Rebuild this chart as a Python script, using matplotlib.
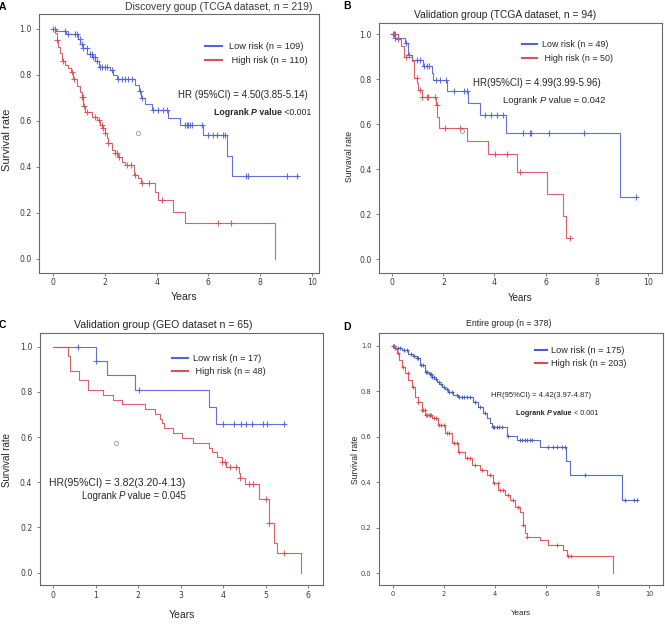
import numpy as np
import matplotlib
matplotlib.use('Agg')
import matplotlib.pyplot as plt
from matplotlib.lines import Line2D

plt.rcParams['font.family'] = ['Liberation Sans', 'DejaVu Sans']

# ---------------- data ----------------
# Panel A: Discovery group (TCGA, n = 219)
a_low_t = [0.1, 0.5, 0.95, 1.05, 1.15, 1.3, 1.5, 1.62, 1.75, 2.2, 2.3, 2.45, 3.15, 3.3, 3.4, 3.55, 3.8, 4.45, 4.9, 5.8, 6.73, 6.93]
a_low_s = [0.99, 0.977, 0.955, 0.935, 0.915, 0.89, 0.875, 0.86, 0.835, 0.82, 0.80, 0.78, 0.755, 0.73, 0.70, 0.675, 0.645, 0.611, 0.582, 0.538, 0.449, 0.36]
a_low_end = 9.46
a_low_cens = [0.0, 0.07, 0.45, 0.58, 0.84, 0.9, 1.03, 1.1, 1.16, 1.29, 1.42, 1.48, 1.55, 1.61, 1.68, 1.81, 1.87, 2.0, 2.06,
              2.26, 2.52, 2.65, 2.77, 2.9, 3.03, 3.35, 3.42, 3.87, 4.06, 4.26, 4.39, 5.1, 5.16, 5.22, 5.29, 5.36, 5.77,
              6.0, 6.17, 6.32, 6.58, 6.65, 7.46, 7.52, 9.06, 9.42]
a_high_t = [0.07, 0.13, 0.19, 0.26, 0.32, 0.45, 0.58, 0.7, 0.77, 0.9, 1.03, 1.1, 1.16, 1.23, 1.5, 1.7, 1.8, 1.9, 2.0, 2.06,
            2.13, 2.26, 2.39, 2.52, 2.65, 2.77, 3.14, 3.29, 3.38, 3.92, 4.06, 4.64, 5.1, 8.57]
a_high_s = [0.98, 0.951, 0.922, 0.893, 0.86, 0.842, 0.828, 0.813, 0.78, 0.75, 0.727, 0.705, 0.665, 0.64, 0.618, 0.604,
            0.582, 0.568, 0.546, 0.524, 0.502, 0.473, 0.459, 0.444, 0.423, 0.408, 0.365, 0.351, 0.332, 0.292, 0.258,
            0.205, 0.155, 0.0]
a_high_end = 8.57
a_high_cens = [0.13, 0.39, 0.71, 0.81, 1.1, 1.14, 1.2, 1.29, 1.61, 1.78, 1.87, 1.94, 2.0, 2.13, 2.39, 2.45, 2.54, 2.84,
               3.01, 3.16, 3.42, 3.7, 4.19, 6.39, 6.88]
a_circle = [3.26, 0.548]

# Panel B: Validation group (TCGA, n = 94)
b_low_t = [0.1, 0.5, 0.6, 0.76, 1.21, 1.54, 1.6, 2.13, 2.98, 3.43, 4.44, 8.92]
b_low_s = [0.985, 0.96, 0.908, 0.886, 0.859, 0.827, 0.797, 0.748, 0.693, 0.641, 0.562, 0.278]
b_low_end = 9.54
b_low_cens = [0.03, 0.08, 0.12, 0.55, 0.65, 0.95, 1.08, 1.25, 1.35, 1.45, 1.73, 1.86, 2.12, 2.4, 2.8, 2.93, 3.63, 3.87,
              4.09, 4.35, 5.13, 5.39, 5.43, 6.15, 7.52, 9.54]
b_high_t = [0.24, 0.33, 0.45, 0.76, 0.86, 0.98, 1.02, 1.15, 1.7, 1.76, 1.82, 2.91, 3.73, 4.87, 6.05, 6.7, 6.8]
b_high_s = [0.979, 0.95, 0.9, 0.88, 0.804, 0.782, 0.752, 0.723, 0.686, 0.634, 0.582, 0.525, 0.467, 0.386, 0.289, 0.192, 0.096]
b_high_end = 6.96
b_high_cens = [0.1, 0.24, 0.52, 0.95, 1.08, 1.15, 1.35, 1.41, 1.67, 1.74, 2.06, 2.65, 4.02, 4.48, 5.0, 6.96]
b_circle = [2.74, 0.57]

# Panel C: Validation group (GEO, n = 65)
c_low_t = [1.0, 1.26, 1.93, 3.67, 3.84]
c_low_s = [0.938, 0.873, 0.806, 0.733, 0.656]
c_low_end = 5.45
c_low_cens = [0.59, 1.0, 2.02, 4.0, 4.25, 4.42, 4.53, 4.67, 4.93, 5.02, 5.44]
c_high_t = [0.34, 0.4, 0.6, 0.82, 1.18, 1.41, 1.61, 2.16, 2.39, 2.51, 2.56, 2.6, 2.82, 3.02, 3.29, 3.67, 3.74, 3.86,
            3.96, 4.06, 4.36, 4.4, 4.52, 4.85, 5.08, 5.19, 5.27, 5.84]
c_high_s = [0.958, 0.894, 0.851, 0.808, 0.787, 0.766, 0.745, 0.723, 0.702, 0.681, 0.66, 0.638, 0.617, 0.596, 0.575,
            0.553, 0.532, 0.511, 0.489, 0.467, 0.442, 0.418, 0.393, 0.324, 0.218, 0.13, 0.087, 0.0]
c_high_end = 5.84
c_high_cens = [3.98, 4.04, 4.15, 4.29, 4.4, 4.6, 4.7, 5.0, 5.08, 5.43]
c_circle = [1.47, 0.572]

# Panel D: Entire group (n = 378)
d_low_t = [0.1, 0.35, 0.61, 0.8, 0.94, 1.07, 1.26, 1.4, 1.52, 1.62, 1.72, 1.82, 1.91, 2.05, 2.17, 2.36, 2.55, 3.15,
           3.34, 3.53, 3.67, 3.8, 3.86, 4.45, 4.84, 5.75, 6.75, 6.92, 8.93]
d_low_s = [0.99, 0.981, 0.965, 0.955, 0.944, 0.915, 0.886, 0.875, 0.864, 0.853, 0.842, 0.83, 0.82, 0.81, 0.798, 0.785,
           0.775, 0.754, 0.732, 0.703, 0.681, 0.659, 0.641, 0.603, 0.587, 0.553, 0.494, 0.43, 0.322]
d_low_end = 9.52
d_low_cens = [0.02, 0.05, 0.1, 0.2, 0.3, 0.45, 0.55, 0.7, 0.85, 0.95, 1.0, 1.1, 1.2, 1.3, 1.35, 1.45, 1.5, 1.55, 1.6,
              1.7, 1.8, 1.9, 2.0, 2.1, 2.2, 2.3, 2.5, 2.6, 2.7, 2.8, 2.9, 3.0, 3.2, 3.4, 3.6, 3.9, 3.95, 4.05, 4.15,
              4.25, 4.5, 4.95, 5.05, 5.15, 5.25, 5.35, 5.42, 6.07, 6.27, 6.4, 6.59, 6.72, 7.5, 9.06, 9.43, 9.52]
d_high_t = [0.08, 0.16, 0.25, 0.35, 0.48, 0.61, 0.74, 0.87, 1.0, 1.13, 1.26, 1.52, 1.78, 2.04, 2.3, 2.56, 2.82, 3.08,
            3.41, 3.67, 3.93, 4.12, 4.38, 4.58, 4.77, 4.97, 5.07, 5.15, 5.25, 5.75, 6.07, 6.66, 6.79, 8.58]
d_high_s = [0.985, 0.966, 0.937, 0.908, 0.878, 0.849, 0.82, 0.776, 0.754, 0.717, 0.696, 0.681, 0.651, 0.615, 0.571,
            0.534, 0.505, 0.476, 0.454, 0.432, 0.395, 0.366, 0.344, 0.322, 0.293, 0.271, 0.212, 0.175, 0.161, 0.146,
            0.124, 0.102, 0.076, 0.0]
d_high_end = 8.58
d_high_cens = [0.05, 0.2, 0.4, 0.6, 0.8, 1.0, 1.15, 1.2, 1.25, 1.3, 1.35, 1.4, 1.45, 1.5, 1.6, 1.7, 1.8, 1.9, 2.0, 2.1,
               2.2, 2.4, 2.5, 2.6, 2.9, 3.0, 3.2, 3.5, 3.8, 3.95, 4.1, 4.2, 4.3, 4.5, 4.7, 4.9, 5.07, 5.25, 6.4, 6.85, 6.96]

titles = ['Discovery goup (TCGA dataset, n = 219)', 'Validation group (TCGA dataset, n = 94)',
          'Validation group (GEO dataset n = 65)', 'Entire group (n = 378)']
panel_letters = ['A', 'B', 'C', 'D']
ylabels = ['Survival rate', 'Survaval rate', 'Survival rate', 'Survival rate']
legend_labels = [['Low risk (n = 109)', ' High risk (n = 110)'],
                 ['Low risk (n = 49)', ' High risk (n = 50)'],
                 ['Low risk (n = 17)', ' High risk (n = 48)'],
                 ['Low risk (n = 175)', 'High risk (n = 203)']]
hr_texts = ['HR (95%CI) = 4.50(3.85-5.14)', 'HR(95%CI) = 4.99(3.99-5.96)',
            'HR(95%CI) = 3.82(3.20-4.13)', 'HR(95%CI) = 4.42(3.97-4.87)']
p_texts = [' <0.001', ' = 0.042', ' = 0.045', ' < 0.001']
y_ticks = [0.0, 0.2, 0.4, 0.6, 0.8, 1.0]
x_ticks_10 = [0, 2, 4, 6, 8, 10]
x_ticks_6 = [0, 1, 2, 3, 4, 5, 6]

# ---------------- figure ----------------
W, H = 665, 624
fig = plt.figure(figsize=(W / 100, H / 100), dpi=100)
TXT = '#262626'


def add_axes_px(l, t, r, b):
    return fig.add_axes([l / W, 1 - b / H, (r - l) / W, (b - t) / H])


def ftext(x, y, s, **kw):
    kw.setdefault('ha', 'center')
    kw.setdefault('va', 'center')
    kw.setdefault('color', TXT)
    return fig.text(x / W, 1 - y / H, s, **kw)


def surv_at(times, surv, t):
    idx = np.searchsorted(np.asarray(times), np.asarray(t), side='right')
    vals = np.concatenate([[1.0], surv])
    return vals[idx]


def km(ax, times, surv, end, cens, color, lw=0.8, ms=4.5):
    times = np.asarray(times)
    surv = np.asarray(surv)
    x = np.concatenate([[0.0], times, [end]])
    y = np.concatenate([[1.0], surv, [surv[-1]]])
    ax.step(x, y, where='post', color=color, lw=lw, alpha=0.9)
    cy = surv_at(times, surv, cens)
    ax.plot(cens, cy, ls='none', marker='+', ms=ms, mew=0.8, color=color, alpha=0.9)


def style(ax, xlim, ylim, xticks, tsize):
    ax.set_xlim(xlim)
    ax.set_ylim(ylim)
    ax.set_xticks(xticks)
    ax.set_xticklabels([str(v) for v in xticks])
    ax.set_yticks(y_ticks)
    ax.set_yticklabels([f'{v:.1f}' for v in y_ticks])
    for sp in ax.spines.values():
        sp.set_color('#6a6a6a')
        sp.set_linewidth(0.8)
    ax.tick_params(direction='out', length=2.5, width=0.6, color='#6a6a6a',
                   labelsize=tsize, labelcolor='#3a3a3a')
    ax.tick_params(axis='x', pad=1.5)
    ax.tick_params(axis='y', pad=3)
    for lbl in ax.get_xticklabels() + ax.get_yticklabels():
        lbl.set_fontfamily('DejaVu Sans')


def legend(ax, labels, anchor, size, hl, htp, lsp, blue, red):
    handles = [Line2D([], [], color=blue, lw=1.5), Line2D([], [], color=red, lw=1.5)]
    leg = ax.legend(handles, labels, loc='upper left', bbox_to_anchor=anchor, frameon=False,
                    borderpad=0, borderaxespad=0, handlelength=hl, handletextpad=htp,
                    labelspacing=lsp, fontsize=size)
    for t in leg.get_texts():
        t.set_color(TXT)


def logrank(ax, x, y, pval, size, bold):
    w = 'bold' if bold else 'normal'
    t1 = ax.text(x, y, 'Logrank ', fontsize=size, weight=w, va='center', ha='left', color=TXT)
    t2 = ax.annotate('P', xy=(1, 0), xycoords=t1, va='bottom', ha='left', fontsize=size,
                     style='italic', weight=w, color=TXT)
    t3 = ax.annotate(' value', xy=(1, 0), xycoords=t2, va='bottom', ha='left', fontsize=size,
                     weight=w, color=TXT)
    ax.annotate(pval, xy=(1, 0), xycoords=t3, va='bottom', ha='left', fontsize=size, color=TXT)


BLUE = '#5563d8'
RED = '#d8505a'
BLUE_D = '#4a5cbf'
RED_D = '#e04a4a'

# ---- Panel A ----
axA = add_axes_px(39.3, 14, 319, 272.7)
style(axA, (-0.542, 10.28), (-0.0595, 1.0638), x_ticks_10, 5.6)
km(axA, a_low_t, a_low_s, a_low_end, a_low_cens, BLUE)
km(axA, a_high_t, a_high_s, a_high_end, a_high_cens, RED)
axA.plot(*a_circle, ls='none', marker='o', ms=3, mfc='none', mec='#999999', mew=0.6)
legend(axA, legend_labels[0], (0.592, 0.8925), 6.7, 1.8, 0.8, 0.55, BLUE, RED)
axA.text(4.81, 0.712, hr_texts[0], fontsize=7.0, va='center', ha='left', color=TXT)
logrank(axA, 6.22, 0.637, p_texts[0], 6.3, True)

# ---- Panel B ----
axB = add_axes_px(379.3, 23.3, 662.3, 272.7)
style(axB, (-0.509, 10.57), (-0.0596, 1.049), x_ticks_10, 5.6)
km(axB, b_low_t, b_low_s, b_low_end, b_low_cens, BLUE)
km(axB, b_high_t, b_high_s, b_high_end, b_high_cens, RED)
axB.plot(*b_circle, ls='none', marker='o', ms=3, mfc='none', mec='#999999', mew=0.6)
legend(axB, legend_labels[1], (0.503, 0.934), 6.4, 1.7, 0.63, 0.6, BLUE, RED)
axB.text(3.15, 0.782, hr_texts[1], fontsize=7.0, va='center', ha='left', color=TXT)
logrank(axB, 4.32, 0.708, p_texts[1], 6.8, False)

# ---- Panel C ----
axC = add_axes_px(40, 333.3, 322.7, 585.3)
style(axC, (-0.313, 6.339), (-0.0558, 1.059), x_ticks_6, 5.6)
km(axC, c_low_t, c_low_s, c_low_end, c_low_cens, BLUE)
km(axC, c_high_t, c_high_s, c_high_end, c_high_cens, RED)
axC.plot(*c_circle, ls='none', marker='o', ms=3, mfc='none', mec='#999999', mew=0.6)
legend(axC, legend_labels[2], (0.466, 0.918), 6.6, 1.8, 0.55, 0.45, BLUE, RED)
axC.text(-0.094, 0.398, hr_texts[2], fontsize=7.5, va='center', ha='left', color=TXT)
logrank(axC, 0.668, 0.339, p_texts[2], 6.9, False)

# ---- Panel D ----
axD = add_axes_px(379.3, 332.7, 663.3, 585.3)
style(axD, (-0.523, 10.558), (-0.0527, 1.057), x_ticks_10, 4.8)
km(axD, d_low_t, d_low_s, d_low_end, d_low_cens, BLUE_D, ms=3.5)
km(axD, d_high_t, d_high_s, d_high_end, d_high_cens, RED_D, ms=3.5)
legend(axD, legend_labels[3], (0.548, 0.946), 6.6, 1.3, 0.4, 0.45, BLUE_D, RED_D)
axD.text(3.84, 0.779, hr_texts[3], fontsize=5.5, va='center', ha='left', color=TXT)
logrank(axD, 4.8, 0.70, p_texts[3], 5.2, True)

# ---- figure texts ----
ftext(218.5, 6.5, titles[0], fontsize=7.5, color='#3a3a3a')
ftext(505, 15, titles[1], fontsize=7.4)
ftext(163, 325, titles[2], fontsize=7.6)
ftext(508.8, 324, titles[3], fontsize=6.3)

ftext(-1, 6.5, panel_letters[0], fontsize=7.5, weight='bold', ha='left', color='black')
ftext(343, 6, panel_letters[1], fontsize=7.5, weight='bold', ha='left', color='black')
ftext(-1, 325.5, panel_letters[2], fontsize=7.5, weight='bold', ha='left', color='black')
ftext(343, 326.5, panel_letters[3], fontsize=7.5, weight='bold', ha='left', color='black')

ftext(7.5, 140, ylabels[0], fontsize=8.0, rotation=90)
ftext(350, 156.7, ylabels[1], fontsize=6.2, rotation=90)
ftext(7.3, 460, ylabels[2], fontsize=7.0, rotation=90)
ftext(356, 460, ylabels[3], fontsize=6.2, rotation=90)

ftext(183.7, 296.7, 'Years', fontsize=7.6)
ftext(520, 298, 'Years', fontsize=7.0)
ftext(181.7, 615, 'Years', fontsize=7.5)
ftext(520.7, 613.3, 'Years', fontsize=5.8)

fig.savefig('out.png', dpi=100)
